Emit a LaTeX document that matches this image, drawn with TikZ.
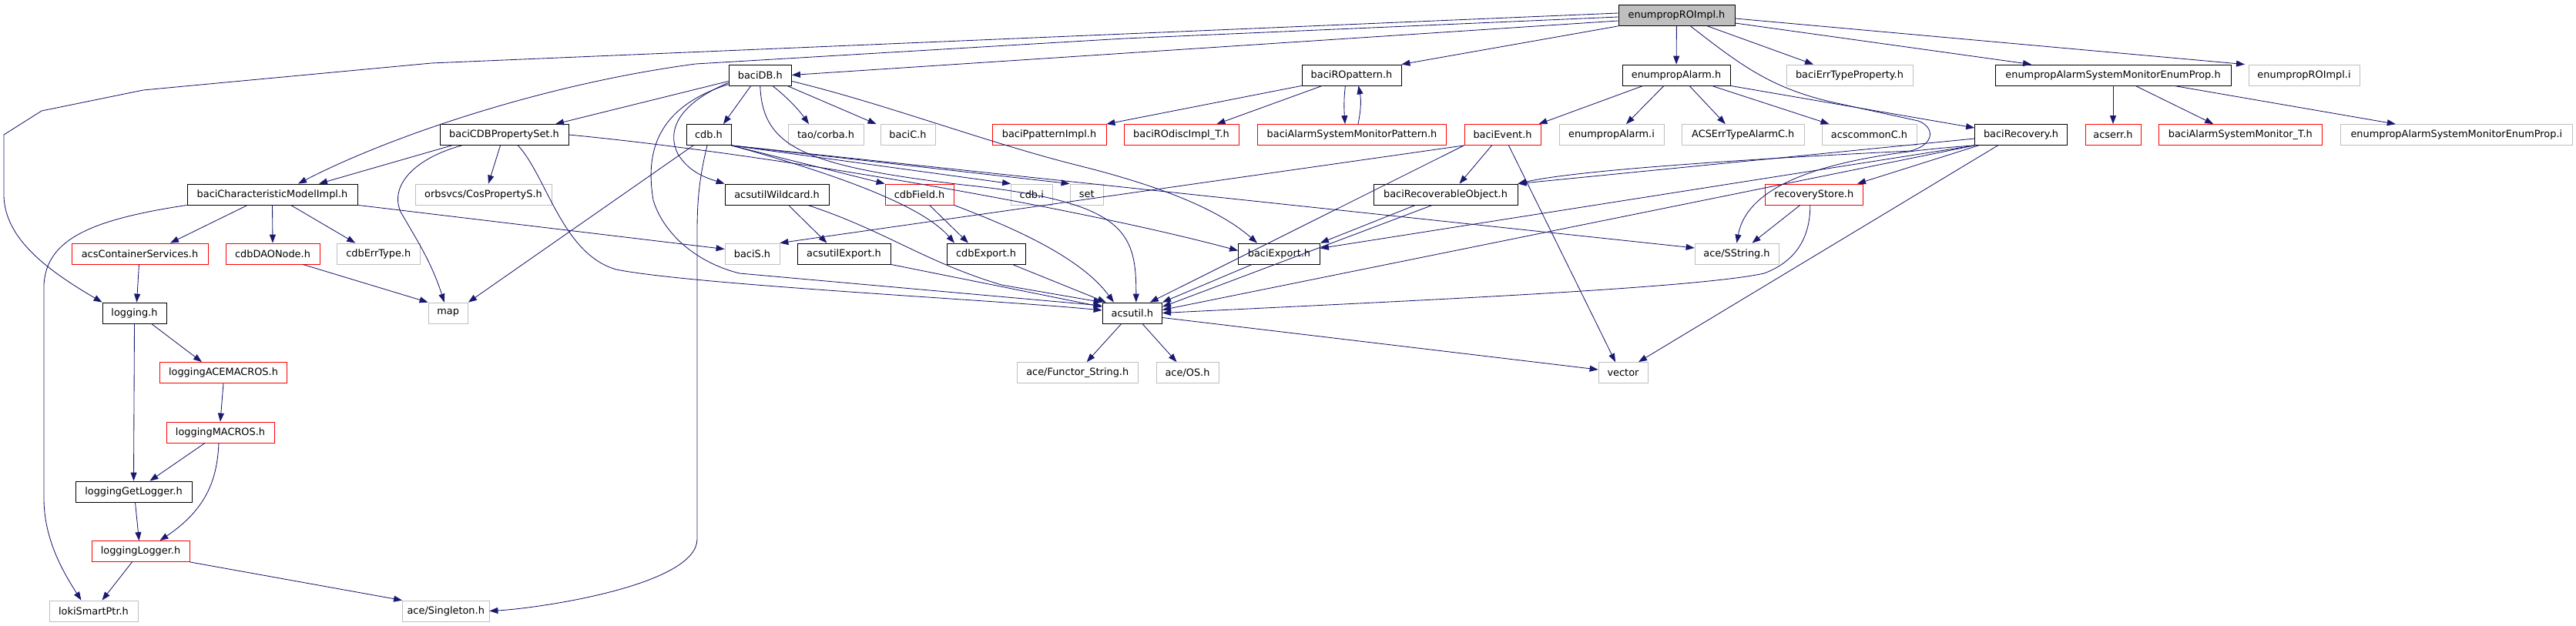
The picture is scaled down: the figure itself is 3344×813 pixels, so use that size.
\documentclass[tikz,border=0pt]{standalone}
\usepackage{fontspec}
\setmainfont{DejaVu Sans}
\usetikzlibrary{arrows.meta,calc}
\definecolor{edgec}{HTML}{191970}
\definecolor{grayb}{HTML}{BFBFBF}
\begin{document}
\begin{tikzpicture}[x=1pt,y=-1pt,
  n/.style={draw,rectangle,minimum height=27pt,inner sep=0pt,line width=0.8pt,font=\fontsize{12.9}{15}\selectfont},
  nb/.style={n,draw=black},
  nr/.style={n,draw=red},
  ng/.style={n,draw=grayb},
  e/.style={draw=edgec,line width=0.85pt,-{Triangle[length=11pt,width=8pt]},fill=none},
]
\useasboundingbox (0,0) rectangle (3344,813);
% row 0
\node[nb,fill=grayb,minimum width=151pt] (E) at (2176.5,20) {enumpropROImpl.h};
% row 1
\node[nb,minimum width=81.5pt] (baciDB) at (986.75,97.5) {baciDB.h};
\node[nb,minimum width=129pt] (baciROpattern) at (1754.5,97.5) {baciROpattern.h};
\node[nb,minimum width=140pt] (enumpropAlarm) at (2176,97.5) {enumpropAlarm.h};
\node[ng,minimum width=164pt] (baciErrTypeProperty) at (2401,97.5) {baciErrTypeProperty.h};
\node[nb,minimum width=306pt] (ASMEPh) at (2743,97.5) {enumpropAlarmSystemMonitorEnumProp.h};
\node[ng,minimum width=144pt] (ROImpli) at (2991,97.5) {enumpropROImpl.i};
% row 2
\node[nb,minimum width=167pt] (CDBPS) at (654.5,175) {baciCDBPropertySet.h};
\node[nb,minimum width=58pt] (cdb) at (920,175) {cdb.h};
\node[ng,minimum width=98pt] (corba) at (1072,175) {tao/corba.h};
\node[ng,minimum width=71pt] (baciC) at (1178.5,175) {baciC.h};
\node[nr,minimum width=148pt] (Ppattern) at (1362,175) {baciPpatternImpl.h};
\node[nr,minimum width=149pt] (ROdisc) at (1533.5,175) {baciROdiscImpl\_T.h};
\node[nr,minimum width=245pt] (ASMP) at (1755,175) {baciAlarmSystemMonitorPattern.h};
\node[nr,minimum width=99pt] (baciEvent) at (1950.5,175) {baciEvent.h};
\node[ng,minimum width=136pt] (Alarmi) at (2092,175) {enumpropAlarm.i};
\node[ng,minimum width=159.5pt] (ACSErr) at (2262.75,175) {ACSErrTypeAlarmC.h};
\node[ng,minimum width=123pt] (acscommonC) at (2426.5,175) {acscommonC.h};
\node[nb,minimum width=120pt] (baciRecovery) at (2623.5,175) {baciRecovery.h};
\node[nr,minimum width=72pt] (acserr) at (2743,175) {acserr.h};
\node[nr,minimum width=211.5pt] (ASMT) at (2908.25,175) {baciAlarmSystemMonitor\_T.h};
\node[ng,minimum width=301.6pt] (ASMEPi) at (3188.8,175) {enumpropAlarmSystemMonitorEnumProp.i};
% row 3
\node[nb,minimum width=221pt] (CharModel) at (353.5,252.5) {baciCharacteristicModelImpl.h};
\node[ng,minimum width=177pt] (orbsvcs) at (627.5,252.5) {orbsvcs/CosPropertyS.h};
\node[nb,minimum width=135pt] (Wildcard) at (1008.5,252.5) {acsutilWildcard.h};
\node[nr,minimum width=89pt] (cdbField) at (1193.5,252.5) {cdbField.h};
\node[ng,minimum width=53.5pt] (cdbi) at (1339.25,252.5) {cdb.i};
\node[ng,minimum width=43.5pt] (set) at (1410.75,252.5) {set};
\node[nb,minimum width=187pt] (BRO) at (1876.5,252.5) {baciRecoverableObject.h};
\node[nr,minimum width=127.6pt] (recoveryStore) at (2354.8,252.5) {recoveryStore.h};
% row 4
\node[nr,minimum width=177pt] (acsCS) at (181.5,329.5) {acsContainerServices.h};
\node[nr,minimum width=122pt] (DAONode) at (354,329.5) {cdbDAONode.h};
\node[ng,minimum width=107.5pt] (cdbErrType) at (491.25,329.5) {cdbErrType.h};
\node[ng,minimum width=71pt] (baciS) at (976.5,329.5) {baciS.h};
\node[nb,minimum width=121pt] (acsutilExport) at (1095.5,329.5) {acsutilExport.h};
\node[nb,minimum width=102pt] (cdbExport) at (1280,329.5) {cdbExport.h};
\node[nb,minimum width=106pt] (baciExport) at (1660.5,329.5) {baciExport.h};
\node[ng,minimum width=109pt] (SString) at (2254.5,329.5) {ace/SString.h};
% row 5
\node[nb,minimum width=83pt] (logging) at (174.5,406.5) {logging.h};
\node[ng,minimum width=51.5pt] (map) at (581.75,406.5) {map};
\node[nb,minimum width=77.6pt] (acsutil) at (1469.8,406.5) {acsutil.h};
% row 6
\node[nr,minimum width=165pt] (ACEMACROS) at (290,484) {loggingACEMACROS.h};
\node[ng,minimum width=157.5pt] (Functor) at (1398.75,484) {ace/Functor\_String.h};
\node[ng,minimum width=81pt] (aceOS) at (1541.5,484) {ace/OS.h};
\node[ng,minimum width=64pt] (vector) at (2107,484) {vector};
% rows 7-10
\node[nr,minimum width=140pt] (MACROS) at (286,561.5) {loggingMACROS.h};
\node[nb,minimum width=151pt] (GetLogger) at (173.5,638.5) {loggingGetLogger.h};
\node[nr,minimum width=127pt] (Logger) at (182.5,716) {loggingLogger.h};
\node[ng,minimum width=115pt] (loki) at (121.5,793.5) {lokiSmartPtr.h};
\node[ng,minimum width=112.5pt] (Singleton) at (578.75,793.5) {ace/Singleton.h};

% ---- edges from enumpropROImpl.h
\draw[e] ([yshift=-7pt]E.west) -- (baciDB.east);
\draw[e] (E.south west) -- (baciROpattern.north east);
\draw[e] (E) -- (enumpropAlarm);
\draw[e] ([xshift=40pt]E.south) -- ([xshift=-47pt]baciErrTypeProperty.north);
\draw[e] ([yshift=-10pt]E.east) -- ([xshift=-106pt]ASMEPh.north);
\draw[e] ([yshift=-4pt]E.east) -- ([xshift=-77pt]ROImpli.north);
\draw[e] ([yshift=3pt]E.west) -- (560,82) -- (186,117) -- (54,144) -- (5,175) -- (5,255) .. controls (7,310) and (60,350) .. (logging.north west);
\draw[e] ([yshift=-2pt]E.west) -- (1460,50) -- (903,83) .. controls (700,110) and (500,180) .. ([xshift=33.5pt]CharModel.north);
\draw[e] ([xshift=18pt]E.south) .. controls (2260,85) and (2300,115) .. (2380,133) -- (2490,157) .. controls (2512,165) and (2512,188) .. (2480,196) .. controls (2300,205) and (2050,220) .. (BRO.north east);
% ---- enumpropAlarm.h
\draw[e] ([xshift=-43pt]enumpropAlarm.south) -- ([xshift=47pt]baciEvent.north);
\draw[e] ([xshift=-16pt]enumpropAlarm.south) -- ([xshift=19pt]Alarmi.north);
\draw[e] ([xshift=17pt]enumpropAlarm.south) -- ([xshift=-23pt]ACSErr.north);
\draw[e] ([xshift=46pt]enumpropAlarm.south) -- ([xshift=-52pt]acscommonC.north);
\draw[e] (enumpropAlarm.south east) -- ([yshift=9pt]baciRecovery.west);
% ---- enumpropAlarmSystemMonitorEnumProp.h
\draw[e] (ASMEPh) -- (acserr);
\draw[e] ([xshift=29pt]ASMEPh.south) -- ([xshift=-35pt]ASMT.north);
\draw[e] ([xshift=79pt]ASMEPh.south) -- ([xshift=-79pt]ASMEPi.north);
% ---- baciROpattern.h
\draw[e] (baciROpattern.south west) -- (Ppattern.north east);
\draw[e] ([xshift=-38pt]baciROpattern.south) -- ([xshift=46pt]ROdisc.north);
\draw[e] ([xshift=-8pt]baciROpattern.south) .. controls (1744,130) and (1745,145) .. ([xshift=-9pt]ASMP.north);
\draw[e] ([xshift=8pt]ASMP.north) .. controls (1767,140) and (1767,130) .. ([xshift=9pt]baciROpattern.south);
% ---- baciDB.h
\draw[e] ([xshift=-12pt]baciDB.south) -- ([xshift=19pt]cdb.north);
\draw[e] ([xshift=16pt]baciDB.south) .. controls (1020,125) and (1035,140) .. ([xshift=-22pt]corba.north);
\draw[e] ([xshift=35pt]baciDB.south) -- ([xshift=-41pt]baciC.north);
\draw[e] ([yshift=-8pt]baciDB.west) -- ([xshift=66.5pt]CDBPS.north);
\draw[e] ([yshift=-10pt]baciDB.west) .. controls (880,135) and (865,170) .. (880,200) .. controls (895,225) and (920,232) .. (Wildcard.north west);
\draw[e] ([yshift=-12pt]baciDB.west) .. controls (850,140) and (838,200) .. (848,260) .. controls (860,300) and (900,340) .. (960,355) -- ([yshift=9.5pt]acsutil.west);
\draw[e] ([yshift=-8pt]baciDB.east) .. controls (1150,135) and (1280,185) .. (1400,215) .. controls (1500,240) and (1580,270) .. ([xshift=-28.5pt]baciExport.north);
\draw[e] (baciDB.south) .. controls (990,190) and (1040,215) .. (1250,240) .. controls (1460,262) and (1475,300) .. ([xshift=5pt]acsutil.north);
% ---- baciCDBPropertySet.h
\draw[e] ([xshift=-68pt]CDBPS.south) -- ([xshift=60.5pt]CharModel.north);
\draw[e] ([xshift=-5pt]CDBPS.south) -- ([xshift=6.5pt]orbsvcs.north);
\draw[e] ([xshift=-55pt]CDBPS.south) .. controls (540,205) and (505,240) .. (520,275) .. controls (540,310) and (560,340) .. ([xshift=-5pt]map.north);
\draw[e] ([xshift=18pt]CDBPS.south) .. controls (710,230) and (730,330) .. (800,350) .. controls (900,370) and (1300,390) .. ([yshift=3.5pt]acsutil.west);
\draw[e] (CDBPS.east) .. controls (1000,200) and (1400,270) .. ([yshift=4pt]baciExport.west);
% ---- cdb.h
\draw[e] ([xshift=-20pt]cdb.south) -- (map.north east);
\draw[e] ([xshift=-2pt]cdb.south) .. controls (908,230) and (905,260) .. (905,300) -- (905,700) .. controls (905,760) and (700,790) .. (Singleton.east);
\draw[e] (cdb.south east) -- (cdbField.north west);
\draw[e] (cdb.south east) -- (cdbi.north west);
\draw[e] (cdb.south east) -- (set.north west);
\draw[e] (cdb.south east) .. controls (1100,230) and (1200,270) .. ([xshift=-41pt]cdbExport.north);
\draw[e] (cdb.south east) -- ([yshift=7.5pt]SString.west);
% ---- cdbField.h
\draw[e] ([xshift=13pt]cdbField.south) -- ([xshift=-23pt]cdbExport.north);
\draw[e] (cdbField.south east) .. controls (1300,290) and (1400,330) .. ([xshift=-24pt]acsutil.north);
% ---- acsutilWildcard.h
\draw[e] ([xshift=15pt]Wildcard.south) -- ([xshift=-22pt]acsutilExport.north);
\draw[e] ([xshift=40pt]Wildcard.south) .. controls (1150,300) and (1200,340) .. (1300,370) -- (acsutil.north west);
\draw[e] (acsutilExport.south east) -- ([yshift=8pt]acsutil.west);
\draw[e] ([xshift=34pt]cdbExport.south) -- ([xshift=-34pt]acsutil.north);
\draw[e] ([xshift=-35pt]baciExport.south) -- (acsutil.north east);
% ---- acsutil.h
\draw[e] ([xshift=-14pt]acsutil.south) -- ([xshift=12pt]Functor.north);
\draw[e] ([xshift=13pt]acsutil.south) -- ([xshift=-14pt]aceOS.north);
\draw[e] ([yshift=-6pt]acsutil.east) -- ([yshift=4pt]vector.west);
% ---- baciEvent.h
\draw[e] ([xshift=-14pt]baciEvent.south) -- ([xshift=18pt]BRO.north);
\draw[e] ([xshift=-50pt]baciEvent.south) -- ([xshift=23pt]acsutil.north);
\draw[e] (baciEvent.south west) -- (baciS.north east);
\draw[e] ([xshift=8pt]baciEvent.south) -- ([xshift=-10pt]vector.north);
% ---- baciRecoverableObject.h
\draw[e] ([xshift=-39pt]BRO.south) -- (baciExport.north east);
\draw[e] ([xshift=-17pt]BRO.south) -- ([yshift=8pt]acsutil.east);
% ---- baciRecovery.h
\draw[e] ([yshift=-5pt]baciRecovery.west) -- (BRO.north east);
\draw[e] ([xshift=-55pt]baciRecovery.south) -- ([xshift=-8pt]recoveryStore.north east);
\draw[e] (baciRecovery.south west) .. controls (2400,200) and (2270,230) .. (SString.north);
\draw[e] (baciRecovery.south west) -- ([yshift=7pt]baciExport.east);
\draw[e] (baciRecovery.south west) -- ([yshift=4pt]acsutil.east);
\draw[e] ([xshift=-30pt]baciRecovery.south) -- ([xshift=20pt]vector.north);
% ---- recoveryStore.h
\draw[e] ([xshift=-18pt]recoveryStore.south) -- ([xshift=20pt]SString.north);
\draw[e] ([xshift=-5pt]recoveryStore.south) .. controls (2350,310) and (2330,340) .. (2290,355) .. controls (2200,375) and (1800,392) .. (acsutil.east);
% ---- baciCharacteristicModelImpl.h
\draw[e] ([xshift=-32pt]CharModel.south) -- ([xshift=39.5pt]acsCS.north);
\draw[e] (CharModel.south) -- (DAONode.north);
\draw[e] ([xshift=24pt]CharModel.south) -- ([xshift=-30pt]cdbErrType.north);
\draw[e] (CharModel.south east) -- ([yshift=6pt]baciS.west);
\draw[e] (CharModel.south west) .. controls (120,285) and (60,310) .. (57,370) -- (57,650) .. controls (58,700) and (80,740) .. ([xshift=-16pt]loki.north);
% ---- logging chain
\draw[e] ([xshift=39pt]DAONode.south) -- (map.north west);
\draw[e] ([xshift=-1pt]acsCS.south) -- ([xshift=3pt]logging.north);
\draw[e] ([xshift=22pt]logging.south) -- ([xshift=-28pt]ACEMACROS.north);
\draw[e] (logging.south) -- (GetLogger.north);
\draw[e] (ACEMACROS.south) -- (MACROS.north);
\draw[e] ([xshift=-20pt]MACROS.south) -- ([xshift=21pt]GetLogger.north);
\draw[e] ([xshift=-2pt]MACROS.south) .. controls (282,620) and (270,660) .. ([xshift=25pt]Logger.north);
\draw[e] ([xshift=2pt]GetLogger.south) -- ([xshift=-2pt]Logger.north);
\draw[e] ([xshift=-11pt]Logger.south) -- ([xshift=11pt]loki.north);
\draw[e] (Logger.south east) -- (Singleton.north west);
\end{tikzpicture}
\end{document}
